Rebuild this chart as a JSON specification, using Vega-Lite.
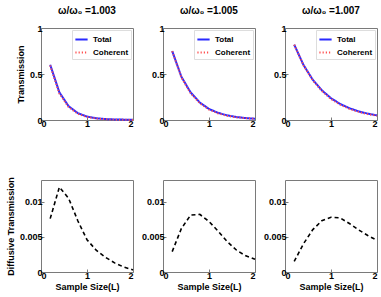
{
  "$schema": "https://vega.github.io/schema/vega-lite/v6.json",
  "background": "white",
  "padding": {"left": 5, "top": 5, "right": 5, "bottom": 5},
  "config": {
    "font": "Liberation Sans",
    "view": {"stroke": "#7a7a7a", "strokeWidth": 1},
    "axis": {
      "domain": false,
      "grid": false,
      "ticks": true,
      "tickSize": -3,
      "tickColor": "#7a7a7a",
      "format": "~g",
      "labelFont": "Liberation Sans",
      "labelFontSize": 9,
      "labelFontWeight": "bold",
      "labelColor": "black",
      "labelPadding": 2,
      "titleFont": "Liberation Sans",
      "titleFontSize": 9,
      "titleFontWeight": "bold",
      "titleColor": "black"
    },
    "title": {"font": "Liberation Sans", "fontSize": 10, "fontWeight": "bold", "offset": 8, "color": "black"},
    "legend": {
      "orient": "top-right",
      "offset": 2,
      "title": null,
      "labelFont": "Liberation Sans",
      "labelFontSize": 8,
      "labelFontWeight": "bold",
      "labelColor": "black",
      "symbolType": "stroke",
      "symbolSize": 150,
      "symbolStrokeWidth": 2,
      "rowPadding": 1,
      "padding": 2,
      "strokeColor": "#dddddd",
      "fillColor": "white"
    }
  },
  "datasets": {
    "top": [
      {"panel": 1, "series": "Total", "x": 0.2, "y": 0.6},
      {"panel": 1, "series": "Total", "x": 0.4, "y": 0.3},
      {"panel": 1, "series": "Total", "x": 0.6, "y": 0.15},
      {"panel": 1, "series": "Total", "x": 0.8, "y": 0.075},
      {"panel": 1, "series": "Total", "x": 1.0, "y": 0.037},
      {"panel": 1, "series": "Total", "x": 1.2, "y": 0.019},
      {"panel": 1, "series": "Total", "x": 1.4, "y": 0.01},
      {"panel": 1, "series": "Total", "x": 1.6, "y": 0.006},
      {"panel": 1, "series": "Total", "x": 1.8, "y": 0.004},
      {"panel": 1, "series": "Total", "x": 2.0, "y": 0.003},
      {"panel": 1, "series": "Coherent", "x": 0.2, "y": 0.593},
      {"panel": 1, "series": "Coherent", "x": 0.4, "y": 0.288},
      {"panel": 1, "series": "Coherent", "x": 0.6, "y": 0.14},
      {"panel": 1, "series": "Coherent", "x": 0.8, "y": 0.068},
      {"panel": 1, "series": "Coherent", "x": 1.0, "y": 0.032},
      {"panel": 1, "series": "Coherent", "x": 1.2, "y": 0.016},
      {"panel": 1, "series": "Coherent", "x": 1.4, "y": 0.008},
      {"panel": 1, "series": "Coherent", "x": 1.6, "y": 0.004},
      {"panel": 1, "series": "Coherent", "x": 1.8, "y": 0.002},
      {"panel": 1, "series": "Coherent", "x": 2.0, "y": 0.001},
      {"panel": 2, "series": "Total", "x": 0.2, "y": 0.75},
      {"panel": 2, "series": "Total", "x": 0.4, "y": 0.47},
      {"panel": 2, "series": "Total", "x": 0.6, "y": 0.3},
      {"panel": 2, "series": "Total", "x": 0.8, "y": 0.19},
      {"panel": 2, "series": "Total", "x": 1.0, "y": 0.12},
      {"panel": 2, "series": "Total", "x": 1.2, "y": 0.077},
      {"panel": 2, "series": "Total", "x": 1.4, "y": 0.05},
      {"panel": 2, "series": "Total", "x": 1.6, "y": 0.032},
      {"panel": 2, "series": "Total", "x": 1.8, "y": 0.021},
      {"panel": 2, "series": "Total", "x": 2.0, "y": 0.014},
      {"panel": 2, "series": "Coherent", "x": 0.2, "y": 0.747},
      {"panel": 2, "series": "Coherent", "x": 0.4, "y": 0.463},
      {"panel": 2, "series": "Coherent", "x": 0.6, "y": 0.292},
      {"panel": 2, "series": "Coherent", "x": 0.8, "y": 0.182},
      {"panel": 2, "series": "Coherent", "x": 1.0, "y": 0.113},
      {"panel": 2, "series": "Coherent", "x": 1.2, "y": 0.071},
      {"panel": 2, "series": "Coherent", "x": 1.4, "y": 0.045},
      {"panel": 2, "series": "Coherent", "x": 1.6, "y": 0.029},
      {"panel": 2, "series": "Coherent", "x": 1.8, "y": 0.019},
      {"panel": 2, "series": "Coherent", "x": 2.0, "y": 0.012},
      {"panel": 3, "series": "Total", "x": 0.2, "y": 0.82},
      {"panel": 3, "series": "Total", "x": 0.4, "y": 0.6},
      {"panel": 3, "series": "Total", "x": 0.6, "y": 0.44},
      {"panel": 3, "series": "Total", "x": 0.8, "y": 0.323},
      {"panel": 3, "series": "Total", "x": 1.0, "y": 0.237},
      {"panel": 3, "series": "Total", "x": 1.2, "y": 0.174},
      {"panel": 3, "series": "Total", "x": 1.4, "y": 0.128},
      {"panel": 3, "series": "Total", "x": 1.6, "y": 0.094},
      {"panel": 3, "series": "Total", "x": 1.8, "y": 0.069},
      {"panel": 3, "series": "Total", "x": 2.0, "y": 0.05},
      {"panel": 3, "series": "Coherent", "x": 0.2, "y": 0.818},
      {"panel": 3, "series": "Coherent", "x": 0.4, "y": 0.596},
      {"panel": 3, "series": "Coherent", "x": 0.6, "y": 0.434},
      {"panel": 3, "series": "Coherent", "x": 0.8, "y": 0.316},
      {"panel": 3, "series": "Coherent", "x": 1.0, "y": 0.229},
      {"panel": 3, "series": "Coherent", "x": 1.2, "y": 0.166},
      {"panel": 3, "series": "Coherent", "x": 1.4, "y": 0.121},
      {"panel": 3, "series": "Coherent", "x": 1.6, "y": 0.088},
      {"panel": 3, "series": "Coherent", "x": 1.8, "y": 0.064},
      {"panel": 3, "series": "Coherent", "x": 2.0, "y": 0.046}
    ],
    "bottom": [
      {"panel": 1, "x": 0.2, "y": 0.0076},
      {"panel": 1, "x": 0.4, "y": 0.0121},
      {"panel": 1, "x": 0.6, "y": 0.0105},
      {"panel": 1, "x": 0.8, "y": 0.0073},
      {"panel": 1, "x": 1.0, "y": 0.0046},
      {"panel": 1, "x": 1.2, "y": 0.0031},
      {"panel": 1, "x": 1.4, "y": 0.0021},
      {"panel": 1, "x": 1.6, "y": 0.0013},
      {"panel": 1, "x": 1.8, "y": 0.0007},
      {"panel": 1, "x": 2.0, "y": 0.0003},
      {"panel": 2, "x": 0.2, "y": 0.0029},
      {"panel": 2, "x": 0.4, "y": 0.0062},
      {"panel": 2, "x": 0.6, "y": 0.0081},
      {"panel": 2, "x": 0.8, "y": 0.0082},
      {"panel": 2, "x": 1.0, "y": 0.0072},
      {"panel": 2, "x": 1.2, "y": 0.0058},
      {"panel": 2, "x": 1.4, "y": 0.0043},
      {"panel": 2, "x": 1.6, "y": 0.0031},
      {"panel": 2, "x": 1.8, "y": 0.0023},
      {"panel": 2, "x": 2.0, "y": 0.0018},
      {"panel": 3, "x": 0.2, "y": 0.0015},
      {"panel": 3, "x": 0.4, "y": 0.0040},
      {"panel": 3, "x": 0.6, "y": 0.0060},
      {"panel": 3, "x": 0.8, "y": 0.0073},
      {"panel": 3, "x": 1.0, "y": 0.0078},
      {"panel": 3, "x": 1.2, "y": 0.0077},
      {"panel": 3, "x": 1.4, "y": 0.0069},
      {"panel": 3, "x": 1.6, "y": 0.0060},
      {"panel": 3, "x": 1.8, "y": 0.0052},
      {"panel": 3, "x": 2.0, "y": 0.0045}
    ]
  },
  "spacing": 47,
  "vconcat": [
    {
      "bounds": "flush",
      "spacing": 30,
      "resolve": {"scale": {"color": "independent", "strokeDash": "independent"}, "legend": {"color": "independent", "strokeDash": "independent"}},
      "hconcat": [
        {
          "width": 92, "height": 92,
          "title": "ω/ω₀ =1.003",
          "data": {"name": "top"},
          "transform": [{"filter": "datum.panel == 1"}],
          "mark": {"type": "line", "strokeWidth": 2},
          "encoding": {
            "x": {"field": "x", "type": "quantitative", "scale": {"domain": [0, 2], "nice": false}, "axis": {"values": [0, 1, 2], "title": null}},
            "y": {"field": "y", "type": "quantitative", "scale": {"domain": [0, 1], "nice": false}, "axis": {"values": [0, 0.5, 1], "title": "Transmission", "titlePadding": 4}},
            "color": {"field": "series", "type": "nominal", "scale": {"domain": ["Total", "Coherent"], "range": ["#2a2aff", "#ff5050"]}},
            "strokeDash": {"field": "series", "type": "nominal", "scale": {"domain": ["Total", "Coherent"], "range": [[1, 0], [1.2, 2]]}},
            "strokeWidth": {"field": "series", "type": "nominal", "scale": {"domain": ["Total", "Coherent"], "range": [2, 1.3]}, "legend": null}
          }
        },
        {
          "width": 92, "height": 92,
          "title": "ω/ω₀ =1.005",
          "data": {"name": "top"},
          "transform": [{"filter": "datum.panel == 2"}],
          "mark": {"type": "line", "strokeWidth": 2},
          "encoding": {
            "x": {"field": "x", "type": "quantitative", "scale": {"domain": [0, 2], "nice": false}, "axis": {"values": [0, 1, 2], "title": null}},
            "y": {"field": "y", "type": "quantitative", "scale": {"domain": [0, 1], "nice": false}, "axis": {"values": [0, 0.5, 1], "title": null}},
            "color": {"field": "series", "type": "nominal", "scale": {"domain": ["Total", "Coherent"], "range": ["#2a2aff", "#ff5050"]}},
            "strokeDash": {"field": "series", "type": "nominal", "scale": {"domain": ["Total", "Coherent"], "range": [[1, 0], [1.2, 2]]}},
            "strokeWidth": {"field": "series", "type": "nominal", "scale": {"domain": ["Total", "Coherent"], "range": [2, 1.3]}, "legend": null}
          }
        },
        {
          "width": 92, "height": 92,
          "title": "ω/ω₀ =1.007",
          "data": {"name": "top"},
          "transform": [{"filter": "datum.panel == 3"}],
          "mark": {"type": "line", "strokeWidth": 2},
          "encoding": {
            "x": {"field": "x", "type": "quantitative", "scale": {"domain": [0, 2], "nice": false}, "axis": {"values": [0, 1, 2], "title": null}},
            "y": {"field": "y", "type": "quantitative", "scale": {"domain": [0, 1], "nice": false}, "axis": {"values": [0, 0.5, 1], "title": null}},
            "color": {"field": "series", "type": "nominal", "scale": {"domain": ["Total", "Coherent"], "range": ["#2a2aff", "#ff5050"]}},
            "strokeDash": {"field": "series", "type": "nominal", "scale": {"domain": ["Total", "Coherent"], "range": [[1, 0], [1.2, 2]]}},
            "strokeWidth": {"field": "series", "type": "nominal", "scale": {"domain": ["Total", "Coherent"], "range": [2, 1.3]}, "legend": null}
          }
        }
      ]
    },
    {
      "bounds": "flush",
      "spacing": 30,
      "hconcat": [
        {
          "width": 92, "height": 92,
          "data": {"name": "bottom"},
          "transform": [{"filter": "datum.panel == 1"}],
          "mark": {"type": "line", "color": "black", "strokeWidth": 1.6, "strokeDash": [4, 3]},
          "encoding": {
            "x": {"field": "x", "type": "quantitative", "scale": {"domain": [0, 2], "nice": false}, "axis": {"values": [0, 1, 2], "title": "Sample Size(L)", "titlePadding": 2}},
            "y": {"field": "y", "type": "quantitative", "scale": {"domain": [0, 0.0131], "nice": false}, "axis": {"values": [0, 0.005, 0.01], "title": "Diffusive Transmission", "titlePadding": 4}}
          }
        },
        {
          "width": 92, "height": 92,
          "data": {"name": "bottom"},
          "transform": [{"filter": "datum.panel == 2"}],
          "mark": {"type": "line", "color": "black", "strokeWidth": 1.6, "strokeDash": [4, 3]},
          "encoding": {
            "x": {"field": "x", "type": "quantitative", "scale": {"domain": [0, 2], "nice": false}, "axis": {"values": [0, 1, 2], "title": "Sample Size(L)", "titlePadding": 2}},
            "y": {"field": "y", "type": "quantitative", "scale": {"domain": [0, 0.0131], "nice": false}, "axis": {"values": [0, 0.005, 0.01], "title": null}}
          }
        },
        {
          "width": 92, "height": 92,
          "data": {"name": "bottom"},
          "transform": [{"filter": "datum.panel == 3"}],
          "mark": {"type": "line", "color": "black", "strokeWidth": 1.6, "strokeDash": [4, 3]},
          "encoding": {
            "x": {"field": "x", "type": "quantitative", "scale": {"domain": [0, 2], "nice": false}, "axis": {"values": [0, 1, 2], "title": "Sample Size(L)", "titlePadding": 2}},
            "y": {"field": "y", "type": "quantitative", "scale": {"domain": [0, 0.0131], "nice": false}, "axis": {"values": [0, 0.005, 0.01], "title": null}}
          }
        }
      ]
    }
  ]
}
